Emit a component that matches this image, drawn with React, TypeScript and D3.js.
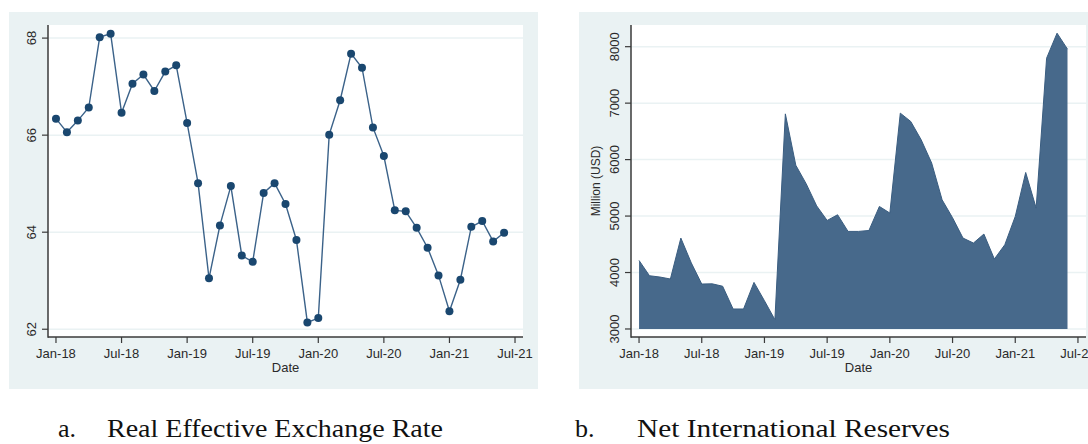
import React from "react";
import * as d3 from "d3";

// ---- Data ----
const tickMonths = [0, 6, 12, 18, 24, 30, 36, 42];
const tickLabels = ["Jan-18", "Jul-18", "Jan-19", "Jul-19", "Jan-20", "Jul-20", "Jan-21", "Jul-21"];

// Real Effective Exchange Rate, monthly Jan-18 .. Jun-21
const reer = [
  66.34, 66.06, 66.3, 66.57, 68.02, 68.09, 66.46, 67.06, 67.25, 66.91, 67.31, 67.44,
  66.25, 65.01, 63.05, 64.14, 64.95, 63.52, 63.39, 64.81, 65.01, 64.58, 63.84, 62.14,
  62.23, 66.01, 66.72, 67.68, 67.39, 66.16, 65.57, 64.45, 64.43, 64.09, 63.68, 63.11,
  62.37, 63.02, 64.11, 64.23, 63.81, 63.99,
];
const reerTicks = [62, 64, 66, 68];

// Net International Reserves (Million USD), monthly Jan-18 .. Jun-21
const nir = [
  4214, 3943, 3920, 3885, 4610, 4170, 3796, 3800, 3757, 3354, 3354, 3825,
  3500, 3165, 6810, 5900, 5570, 5180, 4922, 5023, 4728, 4728, 4745, 5170,
  5053, 6823, 6675, 6350, 5940, 5288, 4970, 4610, 4522, 4681, 4239, 4492,
  4993, 5772, 5142, 7796, 8239, 7956,
];
const nirTicks = [3000, 4000, 5000, 6000, 7000, 8000];

const PANEL = "#eaf2f3";
const GRID = "#eaf2f3";
const AXIS = "#3a3a3a";
const NAVY = "#1a476f";
const AREA = "#47698b";
const SANS = "'Liberation Sans', Arial, sans-serif";
const SERIF = "'Liberation Serif', 'Times New Roman', serif";

type AxisProps = {
  x: d3.ScaleLinear<number, number>;
  y: d3.ScaleLinear<number, number>;
  yTicks: number[];
};

function Axes({ x, y, yTicks }: AxisProps) {
  const [x0, x1] = x.range();
  const [yb, yt] = y.range();
  return (
    <g>
      <rect x={x0} y={yt} width={x1 - x0} height={yb - yt} fill="#ffffff" />
      {yTicks.map((t) => (
        <line key={"g" + t} x1={x0} x2={x1} y1={y(t)} y2={y(t)} stroke={GRID} strokeWidth={1.5} />
      ))}
    </g>
  );
}

function AxisLines({ x, y, yTicks }: AxisProps) {
  const [x0, x1] = x.range();
  const [yb, yt] = y.range();
  return (
    <g>
      <line x1={x0} x2={x0} y1={yt} y2={yb + 0.75} stroke={AXIS} strokeWidth={1.5} />
      <line x1={x0} x2={x1} y1={yb} y2={yb} stroke={AXIS} strokeWidth={1.5} />
      {yTicks.map((t) => (
        <g key={"y" + t}>
          <line x1={x0 - 6} x2={x0} y1={y(t)} y2={y(t)} stroke={AXIS} strokeWidth={1.2} />
          <text
            transform={`translate(${x0 - 12},${y(t)}) rotate(-90)`}
            textAnchor="middle"
            fontFamily={SANS}
            fontSize={13}
            fill="#2a2a2a"
          >
            {t}
          </text>
        </g>
      ))}
      {tickMonths.map((m, i) => (
        <g key={"x" + m}>
          <line x1={x(m)} x2={x(m)} y1={yb} y2={yb + 6} stroke={AXIS} strokeWidth={1.2} />
          <text x={x(m)} y={yb + 21} textAnchor="middle" fontFamily={SANS} fontSize={13} fill="#2a2a2a">
            {tickLabels[i]}
          </text>
        </g>
      ))}
      <text x={(x0 + x1) / 2} y={yb + 35} textAnchor="middle" fontFamily={SANS} fontSize={13} fill="#2a2a2a">
        Date
      </text>
    </g>
  );
}

export default function App() {
  const xL = d3.scaleLinear().domain([-0.73, 42.73]).range([48, 523]);
  const yL = d3.scaleLinear().domain([61.84, 68.27]).range([337, 25]);
  const xR = d3.scaleLinear().domain([-0.77, 42.77]).range([631, 1086]);
  const yR = d3.scaleLinear().domain([2858, 8384]).range([337, 25]);

  const linePath = d3
    .line<number>()
    .x((_, i) => xL(i))
    .y((d) => yL(d))(reer) as string;

  const areaPath = d3
    .area<number>()
    .x((_, i) => xR(i))
    .y0(yR(3000))
    .y1((d) => yR(d))(nir) as string;

  const topPath = d3
    .line<number>()
    .x((_, i) => xR(i))
    .y((d) => yR(d))(nir) as string;

  return (
    <svg
      width={1088}
      height={444}
      style={{ position: "absolute", left: 0, top: 0, display: "block" }}
    >
      <rect x={0} y={0} width={1088} height={444} fill="#ffffff" />
      {/* Left panel */}
      <rect x={9} y={12} width={529} height={377} fill={PANEL} />
      <Axes x={xL} y={yL} yTicks={reerTicks} />
      <path d={linePath} fill="none" stroke="#3b6289" strokeWidth={1.4} />
      {reer.map((d, i) => (
        <circle key={i} cx={xL(i)} cy={yL(d)} r={4} fill={NAVY} />
      ))}
      <AxisLines x={xL} y={yL} yTicks={reerTicks} />

      {/* Right panel */}
      <rect x={579} y={12} width={520} height={377} fill={PANEL} />
      <Axes x={xR} y={yR} yTicks={nirTicks} />
      <path d={areaPath} fill={AREA} stroke="none" />
      <path d={topPath} fill="none" stroke="#3a5d80" strokeWidth={1} />
      <AxisLines x={xR} y={yR} yTicks={nirTicks} />
      <text
        transform={`translate(${600},${181}) rotate(-90)`}
        textAnchor="middle"
        fontFamily={SANS}
        fontSize={12}
        fill="#2a2a2a"
      >
        Million (USD)
      </text>

      {/* Captions */}
      <text x={58} y={437} fontFamily={SERIF} fontSize={26} fill="#111">
        a.
      </text>
      <text x={107} y={437} fontFamily={SERIF} fontSize={26} fill="#111" textLength={336} lengthAdjust="spacingAndGlyphs">
        Real Effective Exchange Rate
      </text>
      <text x={575} y={437} fontFamily={SERIF} fontSize={26} fill="#111">
        b.
      </text>
      <text x={637} y={437} fontFamily={SERIF} fontSize={26} fill="#111" textLength={313} lengthAdjust="spacingAndGlyphs">
        Net International Reserves
      </text>
    </svg>
  );
}
